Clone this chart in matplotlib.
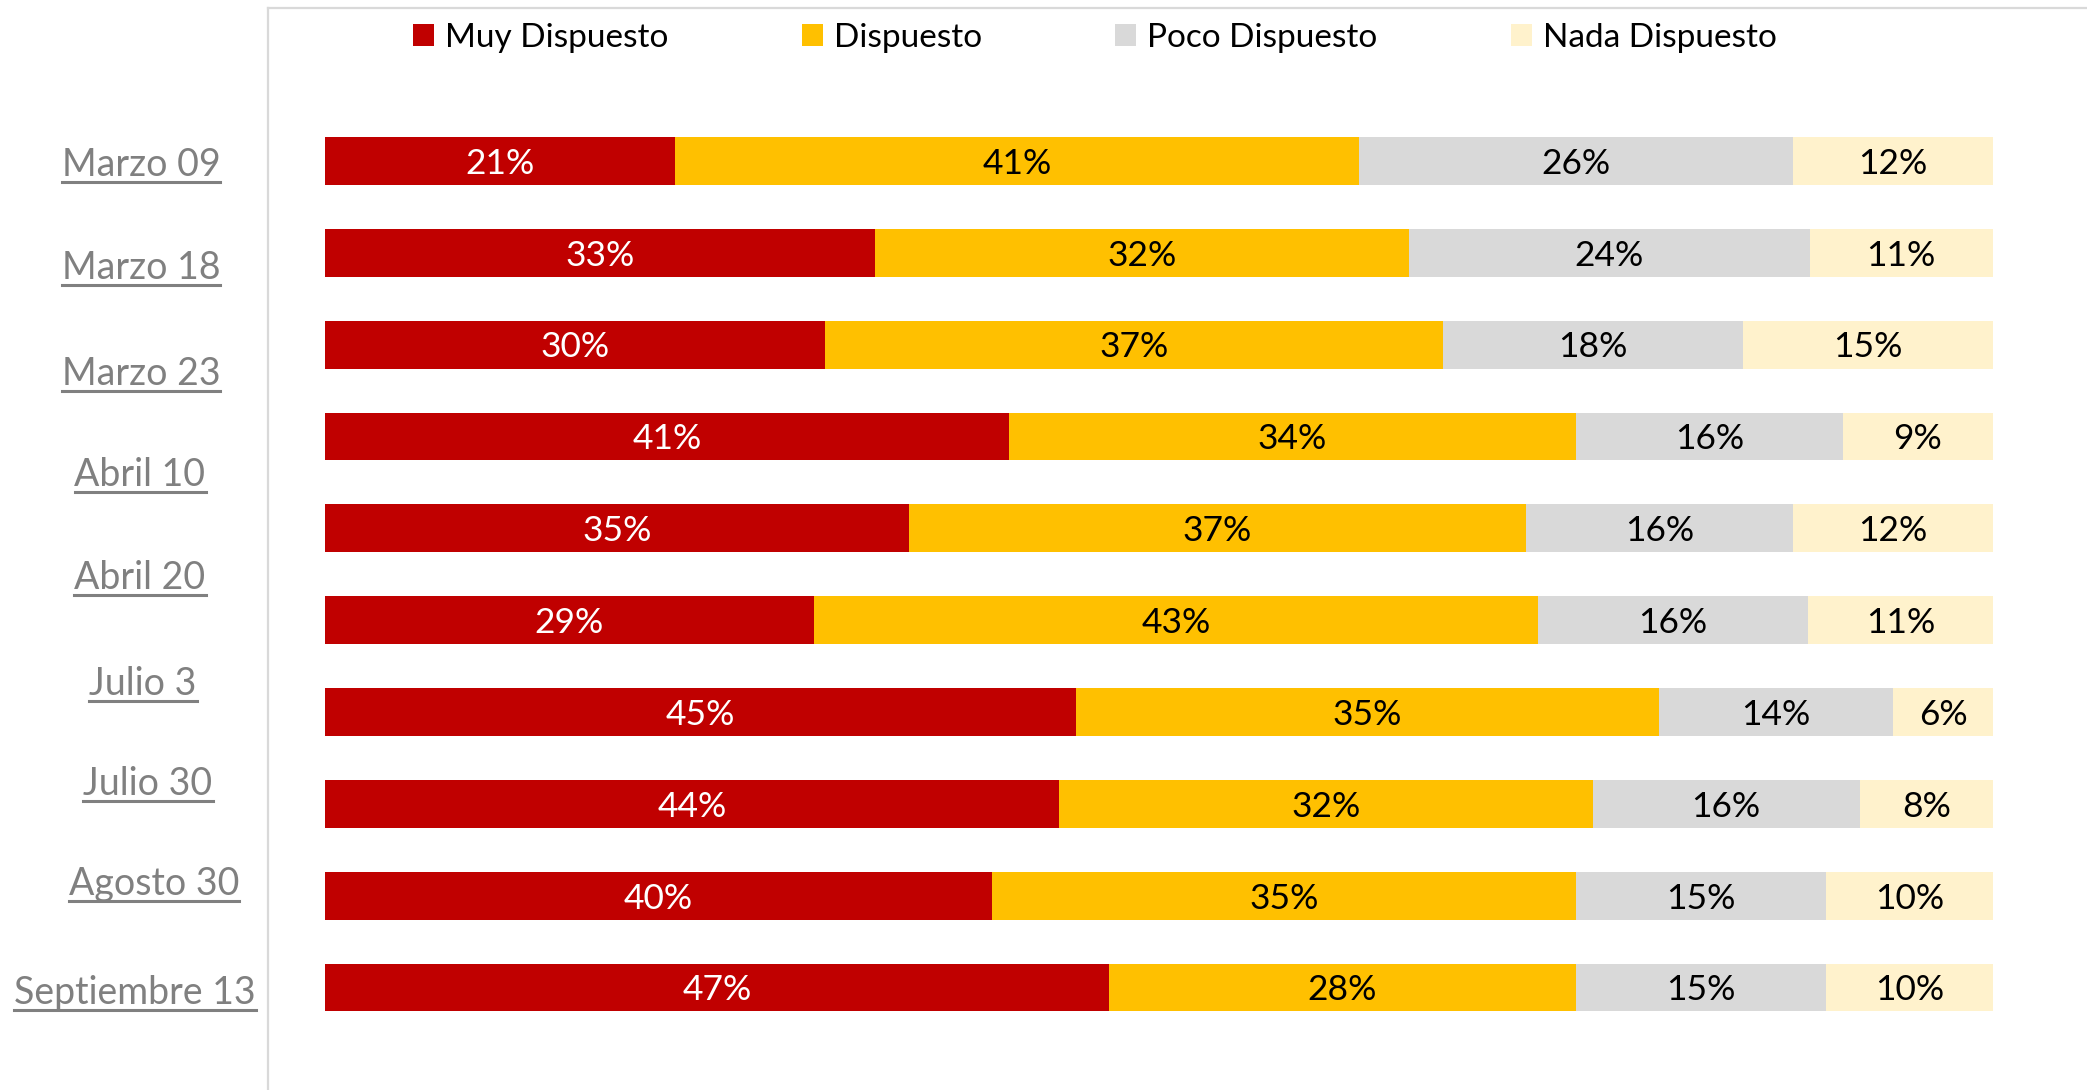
import numpy as np
import matplotlib
matplotlib.use("Agg")
from matplotlib import pyplot as plt
from matplotlib.patches import Patch
from matplotlib.lines import Line2D

plt.rcParams['font.family'] = ['Lato', 'DejaVu Sans']

# survey waves (one bar per wave) and shares per answer
series = ["Muy Dispuesto", "Dispuesto", "Poco Dispuesto", "Nada Dispuesto"]
colors = ["#C00000", "#FFC000", "#D9D9D9", "#FFF2CC"]
text_colors = ["white", "black", "black", "black"]

muy = [21, 33, 30, 41, 35, 29, 45, 44, 40, 47]
dispuesto = [41, 32, 37, 34, 37, 43, 35, 32, 35, 28]
poco = [26, 24, 18, 16, 16, 16, 14, 16, 15, 15]
nada = [12, 11, 15, 9, 12, 11, 6, 8, 10, 10]

fechas = ["Marzo 09", "Marzo 18", "Marzo 23", "Abril 10", "Abril 20",
          "Julio 3", "Julio 30", "Agosto 30", "Septiembre 13"]
# where the date labels sit (pixel centre x, underline y)
fecha_x = [141, 141, 141, 140, 140, 143, 148, 154, 135]
fecha_y = [182, 285, 391, 492, 595, 701, 801, 901, 1010]

W, H = 2087, 1090
fig = plt.figure(figsize=(W / 100, H / 100), dpi=100)

# light frame around the plot area
frame = fig.add_axes([268 / W, -0.01, 1.0, 1 - 8 / H + 0.01])
frame.set_xticks([])
frame.set_yticks([])
for s in ["right", "bottom"]:
    frame.spines[s].set_visible(False)
for s in ["left", "top"]:
    frame.spines[s].set_color("#D9D9D9")
    frame.spines[s].set_linewidth(1.6)

top_px = 161 - 91.84 / 2
bot_px = 987.6 + 91.84 / 2
ax = fig.add_axes([325 / W, 1 - bot_px / H, (1993 - 325) / W, (bot_px - top_px) / H])
ax.patch.set_alpha(0)

data = np.array([muy, dispuesto, poco, nada], dtype=float)
shares = data / data.sum(axis=0)
y = np.arange(data.shape[1])
left = np.zeros(data.shape[1])
for k in range(len(series)):
    ax.barh(y, shares[k], left=left, height=0.52, color=colors[k], label=series[k])
    for i in range(len(y)):
        ax.text(left[i] + shares[k][i] / 2, y[i] + 0.03, "%d%%" % data[k][i],
                ha="center", va="center", fontsize=25.5, color=text_colors[k])
    left += shares[k]

ax.set_xlim(0, 1)
ax.set_ylim(len(y) - 0.5, -0.5)
ax.axis("off")

handles = [Patch(facecolor=c, edgecolor="none") for c in colors]
fig.legend(handles, series, loc="center", bbox_to_anchor=(0.5247, 1 - 38 / H),
           ncol=4, frameon=False, fontsize=24, handlelength=0.63, handleheight=0.63,
           handletextpad=0.33, columnspacing=4.0, borderpad=0)

# underlined date labels on the left
texts = []
for f, xp, yp in zip(fechas, fecha_x, fecha_y):
    t = fig.text(xp / W, 1 - (yp - 6) / H, f, ha="center", va="baseline",
                 fontsize=27, color="#808080")
    texts.append((t, yp))

fig.canvas.draw()
r = fig.canvas.get_renderer()
for t, yp in texts:
    bb = t.get_window_extent(r)
    fig.add_artist(Line2D([bb.x0 / W, bb.x1 / W], [1 - yp / H, 1 - yp / H],
                          transform=fig.transFigure, color="#808080", lw=2.2))

fig.savefig("out.png", dpi=100)
